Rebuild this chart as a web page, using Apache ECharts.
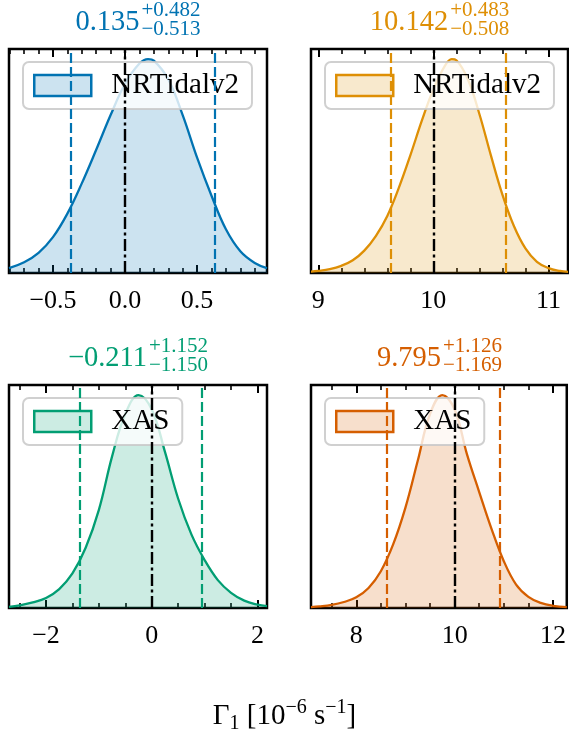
<!DOCTYPE html>
<html>
<head>
<meta charset="utf-8">
<script src="https://cdn.jsdelivr.net/npm/echarts@6/dist/echarts.min.js"></script>
<style>
html,body{margin:0;padding:0;background:#fff;}
#chart{width:569px;height:737px;}
</style>
</head>
<body>
<div id="chart"></div>
<script>
// ---------------- data ----------------
const PANEL_NAMES = ['NRTidalv2', 'NRTidalv2', 'XAS', 'XAS'];
const COLORS = ['#0173B2', '#DE8F05', '#029E73', '#D55E00'];
const FILLS = ['rgba(1,115,178,0.2)', 'rgba(222,143,5,0.2)', 'rgba(2,158,115,0.2)', 'rgba(213,94,0,0.2)'];
const MEDIANS = [0.135, 10.142, -0.211, 9.795];
const ERR_PLUS = [0.482, 0.483, 1.152, 1.126];
const ERR_MINUS = [0.513, 0.508, 1.150, 1.169];
const TRUTH = [0, 10, 0, 10];
const X_MIN = [-0.805, 8.937, -2.70, 7.08];
const X_MAX = [0.985, 11.17, 2.18, 12.28];
const MAJOR_TICKS = [[-0.5, 0, 0.5], [9, 10, 11], [-2, 0, 2], [8, 10, 12]];
const MINOR_TICKS = [
  [-0.8, -0.7, -0.6, -0.4, -0.3, -0.2, -0.1, 0.1, 0.2, 0.3, 0.4, 0.6, 0.7, 0.8, 0.9],
  [9.2, 9.4, 9.6, 9.8, 10.2, 10.4, 10.6, 10.8],
  [-2.5, -1.5, -1, -0.5, 0.5, 1, 1.5],
  [7.5, 8.5, 9, 9.5, 10.5, 11, 11.5]
];
const LABEL_DECIMALS = [1, 0, 0, 0];

// posterior densities (normalized to panel height)
const X_NRT_A = [-0.805, -0.7, -0.6, -0.5, -0.4, -0.3, -0.2, -0.1, 0, 0.1, 0.16, 0.2, 0.3, 0.4, 0.5, 0.6, 0.7, 0.8, 0.9, 0.985];
const D_NRT_A = [0.022, 0.048, 0.09, 0.16, 0.265, 0.40, 0.55, 0.705, 0.845, 0.935, 0.955, 0.948, 0.865, 0.705, 0.515, 0.345, 0.195, 0.097, 0.045, 0.022];
const X_NRT_B = [8.937, 9.0, 9.1, 9.2, 9.3, 9.4, 9.5, 9.6, 9.7, 9.8, 9.9, 10.0, 10.1, 10.16, 10.2, 10.3, 10.4, 10.5, 10.6, 10.7, 10.8, 10.9, 11.0, 11.1, 11.17];
const D_NRT_B = [0.006, 0.009, 0.017, 0.032, 0.057, 0.10, 0.165, 0.255, 0.38, 0.525, 0.68, 0.82, 0.925, 0.955, 0.95, 0.865, 0.71, 0.525, 0.35, 0.21, 0.11, 0.05, 0.022, 0.009, 0.005];
const X_XAS_A = [-2.70, -2.5, -2.25, -2.0, -1.75, -1.5, -1.25, -1.0, -0.75, -0.5, -0.25, 0, 0.25, 0.5, 0.75, 1.0, 1.25, 1.5, 1.75, 2.0, 2.18];
const D_XAS_A = [0.005, 0.012, 0.025, 0.045, 0.085, 0.155, 0.27, 0.44, 0.68, 0.87, 0.955, 0.89, 0.70, 0.49, 0.33, 0.215, 0.125, 0.068, 0.033, 0.015, 0.008];
const X_XAS_B = [7.08, 7.25, 7.5, 7.75, 8.0, 8.25, 8.5, 8.75, 9.0, 9.25, 9.5, 9.75, 10.0, 10.25, 10.5, 10.75, 11.0, 11.25, 11.5, 11.75, 12.0, 12.28];
const D_XAS_B = [0.004, 0.007, 0.014, 0.027, 0.048, 0.09, 0.165, 0.285, 0.45, 0.66, 0.87, 0.955, 0.89, 0.69, 0.52, 0.355, 0.21, 0.105, 0.05, 0.023, 0.01, 0.004];

const X_VALUES = [X_NRT_A, X_NRT_B, X_XAS_A, X_XAS_B];
const DENSITIES = [D_NRT_A, D_NRT_B, D_XAS_A, D_XAS_B];

// ---------------- layout / style ----------------
const FONT = "'Liberation Serif', 'DejaVu Serif', serif";
const GRIDS = [
  {left: 9, top: 49, width: 258, height: 224},
  {left: 311, top: 49, width: 257, height: 224},
  {left: 9, top: 385, width: 258, height: 223},
  {left: 311, top: 385, width: 257, height: 223}
];

function fmtMinus(v, dec) {
  const s = Math.abs(v).toFixed(dec);
  return (v < 0 && Number(s) !== 0 ? '\u2212' : '') + s;
}

const measureCtx = document.createElement('canvas').getContext('2d');
function textW(t, size) {
  measureCtx.font = size + 'px ' + FONT;
  return measureCtx.measureText(t).width;
}
function txt(t, x, baseline, size, color) {
  return {
    type: 'text', x: x, y: baseline - 0.3375 * size, silent: true,
    style: {text: t, fontSize: size, fontFamily: FONT, fill: color, align: 'left', verticalAlign: 'middle'}
  };
}

const grid = [], xAxis = [], yAxis = [], series = [], legend = [], graphic = [];

for (let i = 0; i < 4; i++) {
  const g = GRIDS[i];
  grid.push({left: g.left, top: g.top, width: g.width, height: g.height, show: true,
    borderColor: '#000', borderWidth: 2.5, backgroundColor: 'transparent', containLabel: false});

  const base = {gridIndex: i, type: 'value', min: X_MIN[i], max: X_MAX[i],
    axisLine: {show: false}, splitLine: {show: false}};
  const dec = LABEL_DECIMALS[i];
  xAxis.push(Object.assign({}, base, {
    position: 'bottom',
    axisTick: {show: true, inside: true, length: 8, customValues: MAJOR_TICKS[i], lineStyle: {color: '#000', width: 2}},
    axisLabel: {show: true, customValues: MAJOR_TICKS[i], margin: 15, color: '#000', fontSize: 26, fontFamily: FONT,
      formatter: v => fmtMinus(v, dec)}
  }));
  xAxis.push(Object.assign({}, base, {
    position: 'top',
    axisTick: {show: true, inside: true, length: 8, customValues: MAJOR_TICKS[i], lineStyle: {color: '#000', width: 2}},
    axisLabel: {show: false}
  }));
  xAxis.push(Object.assign({}, base, {
    position: 'bottom',
    axisTick: {show: true, inside: true, length: 5, customValues: MINOR_TICKS[i], lineStyle: {color: '#000', width: 1.6}},
    axisLabel: {show: false}
  }));
  xAxis.push(Object.assign({}, base, {
    position: 'top',
    axisTick: {show: true, inside: true, length: 5, customValues: MINOR_TICKS[i], lineStyle: {color: '#000', width: 1.6}},
    axisLabel: {show: false}
  }));
  yAxis.push({gridIndex: i, type: 'value', min: 0, max: 1, show: false});

  const lo = MEDIANS[i] - ERR_MINUS[i];
  const hi = MEDIANS[i] + ERR_PLUS[i];
  series.push({
    name: PANEL_NAMES[i], type: 'line', xAxisIndex: i * 4, yAxisIndex: i,
    data: X_VALUES[i].map((x, k) => [x, DENSITIES[i][k]]),
    smooth: 0.4, symbol: 'none', animation: false, silent: true,
    lineStyle: {color: COLORS[i], width: 2.3},
    itemStyle: {color: COLORS[i]},
    areaStyle: {color: FILLS[i], opacity: 1},
    markLine: {
      silent: true, symbol: ['none', 'none'], label: {show: false}, animation: false,
      data: [
        {xAxis: lo, lineStyle: {color: COLORS[i], type: [10, 4], width: 2.2}},
        {xAxis: hi, lineStyle: {color: COLORS[i], type: [10, 4], width: 2.2}},
        {xAxis: TRUTH[i], lineStyle: {color: '#000', type: [12, 3.5, 3, 3.5], width: 2.4}}
      ]
    }
  });

  legend.push({
    left: g.left + 14, top: g.top + 13, orient: 'vertical', selectedMode: false,
    backgroundColor: 'rgba(255,255,255,0.8)', borderColor: 'rgba(200,200,200,0.85)', borderWidth: 2,
    borderRadius: 6, padding: [9, 13, 9, 10],
    itemWidth: 57, itemHeight: 21,
    textStyle: {fontFamily: FONT, fontSize: 29, color: '#000', padding: [0, 0, 0, 15]},
    data: [{name: PANEL_NAMES[i], icon: 'rect',
      itemStyle: {color: FILLS[i], borderColor: COLORS[i], borderWidth: 2.5, opacity: 1}}]
  });

  const main = fmtMinus(MEDIANS[i], 3);
  const sup = '+' + ERR_PLUS[i].toFixed(3);
  const sub = '\u2212' + ERR_MINUS[i].toFixed(3);
  const mainSize = 28.5, smallSize = 21;
  const wMain = textW(main, mainSize);
  const wSmall = Math.max(textW(sup, smallSize), textW(sub, smallSize));
  const total = wMain + 2 + wSmall;
  const cx = g.left + g.width / 2;
  const x0 = cx - total / 2;
  const bl = g.top - 17.3;
  graphic.push(txt(main, x0, bl, mainSize, COLORS[i]));
  graphic.push(txt(sup, x0 + wMain + 2, bl - 13.7, smallSize, COLORS[i]));
  graphic.push(txt(sub, x0 + wMain + 2, bl + 5.3, smallSize, COLORS[i]));
}

// common x label: Γ1 [10^-6 s^-1]
const XLABEL_PIECES = [
  {t: '\u0393', s: 29, dy: 0},
  {t: '1', s: 20, dy: 4},
  {t: ' [10', s: 29, dy: 0},
  {t: '\u22126', s: 20, dy: -12},
  {t: ' s', s: 29, dy: 0},
  {t: '\u22121', s: 20, dy: -12},
  {t: ']', s: 29, dy: 0}
];
(function () {
  const widths = XLABEL_PIECES.map(p => textW(p.t, p.s));
  const total = widths.reduce((a, b) => a + b, 0);
  let x = 284.5 - total / 2;
  XLABEL_PIECES.forEach((p, k) => {
    graphic.push(txt(p.t, x, 726 + p.dy, p.s, '#000'));
    x += widths[k];
  });
})();

const chart = echarts.init(document.getElementById('chart'), null, {renderer: 'canvas'});
chart.setOption({
  animation: false,
  backgroundColor: '#fff',
  grid: grid, xAxis: xAxis, yAxis: yAxis, series: series, legend: legend, graphic: graphic
});
</script>
</body>
</html>
